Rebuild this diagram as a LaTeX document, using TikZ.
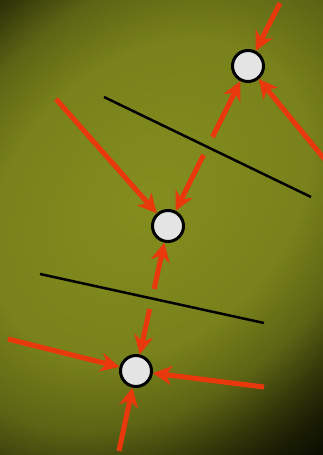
\documentclass[tikz,border=0pt]{standalone}
\usetikzlibrary{arrows.meta,calc}
\definecolor{bgA}{RGB}{132,142,30}
\definecolor{bgB}{RGB}{121,130,27}
\definecolor{bgC}{RGB}{93,100,20}
\definecolor{bgD}{RGB}{51,55,9}
\definecolor{bgF}{RGB}{28,31,4}
\definecolor{bgE}{RGB}{13,16,1}
\definecolor{arrowred}{RGB}{232,56,12}
\definecolor{dotfill}{RGB}{228,228,228}
\pgfdeclareradialshading{bgshade}{\pgfpoint{0bp}{0bp}}{color(0bp)=(bgA); color(11.25bp)=(bgB); color(16.25bp)=(bgC); color(20bp)=(bgD); color(22.5bp)=(bgF); color(25bp)=(bgE); color(50bp)=(bgE)}
\tikzset{
  dot/.style={circle, minimum size=31pt, inner sep=0pt, fill=dotfill, draw=black, line width=3pt},
  arr/.style={draw=arrowred, line width=5pt, -{Stealth[length=19pt,width=19pt,inset=6pt]}},
  wall/.style={draw=black, line width=2.5pt}
}
\begin{document}
\begin{tikzpicture}[x=1pt,y=-1pt]
\useasboundingbox (0,0) rectangle (323,455);
\begin{scope}
  \clip (0,0) rectangle (323,455);
  \fill[bgE] (0,0) rectangle (323,455);
  \begin{scope}[transform canvas={shift={(150pt,-200pt)}, rotate=45.6}]
    \shade[shading=bgshade] (0pt,0pt) ellipse [x radius=400pt, y radius=300pt];
  \end{scope}
\end{scope}
\begin{scope}
\clip (0,0) rectangle (323,455);
% walls
\coordinate (w1a) at (104,97);
\coordinate (w1b) at (311,197);
\coordinate (w2a) at (40,274);
\coordinate (w2b) at (264,323);
\draw[wall] (w1a) -- (w1b);
\draw[wall] (w2a) -- (w2b);
% dots
\node[dot] (A) at (248,66) {};
\node[dot] (B) at (168,226) {};
\node[dot] (C) at (136,371) {};
% arrow start points
\coordinate (s1) at (280,3);
\coordinate (s2) at (335,172);
\coordinate (s3) at ($(A)!0.444!(B)$);
\coordinate (s4) at ($(A)!0.556!(B)$);
\coordinate (s5) at (56,99);
\coordinate (s6) at ($(B)!0.434!(C)$);
\coordinate (s7) at ($(B)!0.572!(C)$);
\coordinate (s8) at (8,339);
\coordinate (s9) at (264,387);
\coordinate (s10) at (119,451);
% arrows
\draw[arr] (s1) -- (A);
\draw[arr] (s2) -- (A);
\draw[arr] (s3) -- (A);
\draw[arr] (s4) -- (B);
\draw[arr] (s5) -- (B);
\draw[arr] (s6) -- (B);
\draw[arr] (s7) -- (C);
\draw[arr] (s8) -- (C);
\draw[arr] (s9) -- (C);
\draw[arr] (s10) -- (C);
\end{scope}
\end{tikzpicture}
\end{document}
